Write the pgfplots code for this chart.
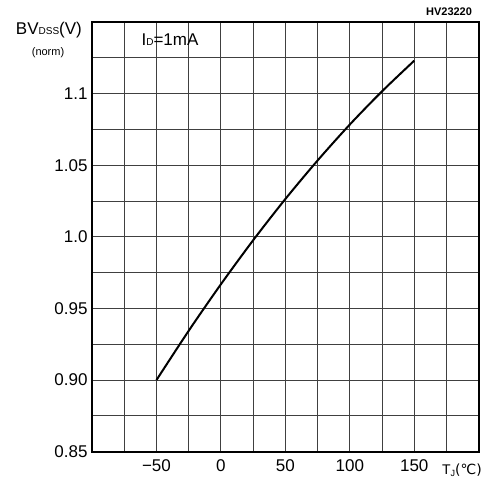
\documentclass[border=0pt]{standalone}
\usepackage{pgfplots}
\pgfplotsset{compat=1.18}
\usepackage{fontspec}
\setmainfont{Liberation Sans}
\newfontfamily\symfont{DejaVu Sans}

\begin{document}
\begin{tikzpicture}
\begin{axis}[
  scale only axis, width=386.7pt, height=429.7pt,
  xmin=-100, xmax=200, ymin=0.85, ymax=1.15,
  xtick={-75,-50,...,175},
  xticklabels={,−50,,0,,50,,100,,150,},
  ytick={0.875,0.9,...,1.13},
  extra y ticks={0.85},
  extra y tick labels={0.85},
  extra y tick style={grid=none},
  yticklabels={,0.90,,0.95,,1.0,,1.05,,1.1,},
  major tick length=0pt,
  grid=major,
  grid style={line width=0.9pt, black!75},
  axis line style={line width=1.8pt, black},
  tick label style={font=\fontsize{17}{19}\selectfont},
  /pgf/number format/assume math mode=true,
  xticklabel style={yshift=-4pt},
  yticklabel style={xshift=-1pt},
  clip=false,
]
\addplot[black, line width=2pt, smooth] coordinates {
  (-50,0.9000) (-25,0.9344) (0,0.9669) (25,0.9976) (50,1.0264)
  (75,1.0533) (100,1.0784) (125,1.1016) (150,1.1230)};
\node[font=\fontsize{17}{19}\selectfont] at (axis cs:-133.4,1.1444)
  {BV{\fontsize{10}{12}\selectfont DSS}(V)};
\node[font=\fontsize{11}{13}\selectfont] at (axis cs:-134.1,1.1284) {(norm)};
\node[font=\fontsize{17}{19}\selectfont] at (axis cs:-39.5,1.1374)
  {I{\fontsize{10}{12}\selectfont D}=1mA};
\node[font=\fontsize{14}{16}\selectfont] at (axis cs:187,0.8372)
  {T\raisebox{-2pt}{\fontsize{9}{11}\selectfont J}{\symfont(℃)}};
\node[font=\bfseries\fontsize{11}{13}\selectfont] at (axis cs:177,1.157) {HV23220};
\end{axis}
\path ([xshift=-92pt,yshift=-32.3pt]current axis.south west)
  rectangle ([xshift=7.3pt,yshift=22pt]current axis.north east);
\end{tikzpicture}
\end{document}
